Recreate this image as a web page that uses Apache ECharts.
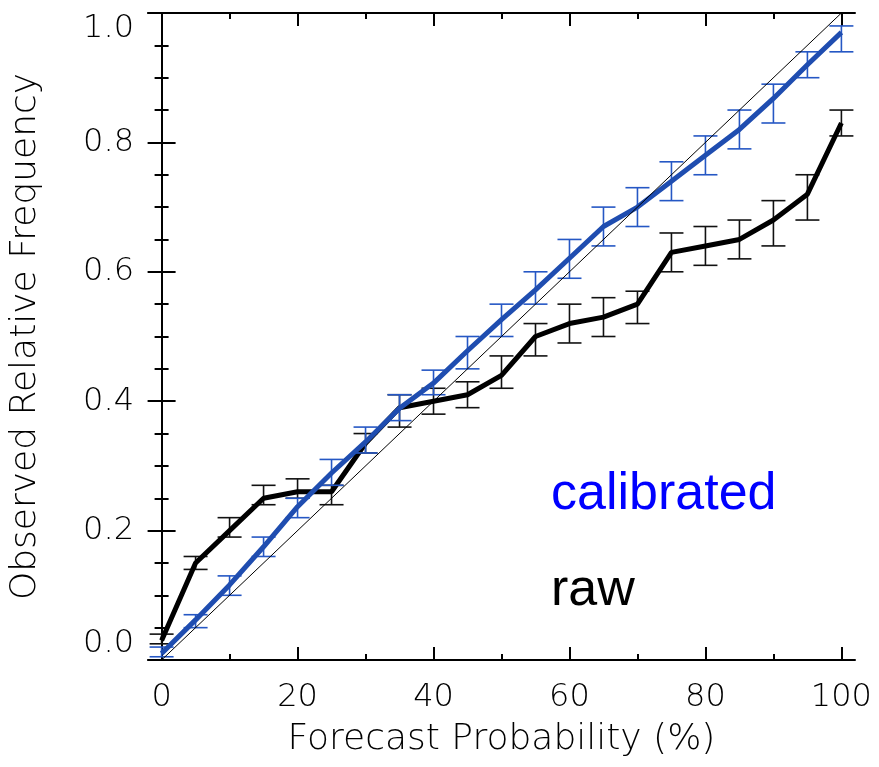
<!DOCTYPE html>
<html>
<head>
<meta charset="utf-8">
<script src="https://cdn.jsdelivr.net/npm/echarts@6.0.0/dist/echarts.min.js"></script>
<style>
html,body{margin:0;padding:0;background:#fff;}
#chart{width:879px;height:767px;}
</style>
</head>
<body>
<div id="chart"></div>
<script>
// Forecast probability bins (%)
const probs = [0,5,10,15,20,25,30,35,40,45,50,55,60,65,70,75,80,85,90,95,100];
// Raw forecast: observed relative frequency and error-bar limits
const rawFreq = [0.03,0.15,0.20,0.25,0.26,0.26,0.335,0.39,0.40,0.41,0.44,0.50,0.52,0.53,0.55,0.63,0.64,0.65,0.68,0.72,0.83];
const rawHigh = [0.04,0.16,0.22,0.27,0.28,0.27,0.35,0.41,0.42,0.43,0.47,0.52,0.55,0.56,0.57,0.66,0.67,0.68,0.71,0.75,0.85];
const rawLow  = [0.025,0.14,0.19,0.24,0.25,0.24,0.32,0.36,0.38,0.39,0.42,0.47,0.49,0.50,0.52,0.60,0.61,0.62,0.64,0.68,0.81];
// Calibrated forecast
const calFreq = [0.01,0.062,0.116,0.175,0.237,0.289,0.337,0.389,0.428,0.478,0.526,0.572,0.621,0.67,0.70,0.74,0.78,0.82,0.868,0.92,0.97];
const calHigh = [0.02,0.07,0.13,0.19,0.25,0.31,0.36,0.41,0.448,0.50,0.55,0.60,0.65,0.70,0.73,0.77,0.81,0.85,0.89,0.94,0.98];
const calLow  = [0.005,0.05,0.10,0.16,0.22,0.27,0.32,0.37,0.41,0.45,0.50,0.55,0.59,0.64,0.67,0.71,0.75,0.79,0.83,0.90,0.94];
// Perfect reliability diagonal
const diagX = [0,100];
const diagY = [0,1];
// Tick values
const xMajorTicks = [0,20,40,60,80,100];
const xMinorTicks = [10,30,50,70,90];
const yAxisMin = 0, yAxisMax = 1, yInterval = 0.2;
const xAxisMin = -2, xAxisMax = 102;
const labelsText = {calibrated:'calibrated', raw:'raw'};
const xTitle = 'Forecast Probability (%)';
const yTitle = 'Observed Relative Frequency';

const FONT = '"DejaVu Sans", sans-serif';
const TXT = '#000';

function zip(xs, ys){ return xs.map((x,i)=>[x, ys[i]]); }
function zip3(xs, a, b){ return xs.map((x,i)=>[x, a[i], b[i]]); }

function errRender(color){
  return function(params, api){
    const x = api.value(0), lo = api.value(1), hi = api.value(2);
    const pLo = api.coord([x, lo]);
    const pHi = api.coord([x, hi]);
    const hw = 12;
    const st = {stroke: color, lineWidth: 1.6};
    return {type:'group', children:[
      {type:'line', shape:{x1:pHi[0], y1:pHi[1], x2:pLo[0], y2:pLo[1]}, style:st},
      {type:'line', shape:{x1:pHi[0]-hw, y1:pHi[1], x2:pHi[0]+hw, y2:pHi[1]}, style:st},
      {type:'line', shape:{x1:pLo[0]-hw, y1:pLo[1], x2:pLo[0]+hw, y2:pLo[1]}, style:st}
    ]};
  };
}

const lineAx = {show:true, lineStyle:{color:'#000', width:2}};
function xAx(pos, ticks, len, withLabels, showLine){
  const o = {
    type:'value', position:pos, min:xAxisMin, max:xAxisMax,
    axisLine: showLine ? lineAx : {show:false},
    axisTick:{show:true, inside:true, length:len, customValues:ticks, lineStyle:{color:'#000', width:2}},
    axisLabel: withLabels ? {show:true, customValues:ticks, fontSize:32, fontFamily:FONT, fontWeight:200, color:TXT, margin:22} : {show:false},
    splitLine:{show:false}
  };
  if (withLabels){
    o.name = xTitle; o.nameLocation='middle'; o.nameGap=62;
    o.nameTextStyle = {fontSize:36, fontFamily:FONT, fontWeight:200, color:TXT};
  }
  return o;
}
function yAx(pos, withLabels){
  const o = {
    type:'value', position:pos, min:yAxisMin, max:yAxisMax, interval:yInterval,
    axisLine: lineAx,
    axisTick:{show:true, inside:true, length:14, lineStyle:{color:'#000', width:2}},
    minorTick:{show:true, splitNumber:4, length:7, lineStyle:{color:'#000', width:2}},
    axisLabel: withLabels ? {show:true, fontSize:32, fontFamily:FONT, fontWeight:200, color:TXT, margin:14,
      formatter:v=>v.toFixed(1), verticalAlignMinLabel:'bottom', verticalAlignMaxLabel:'top'} : {show:false},
    splitLine:{show:false}, minorSplitLine:{show:false}
  };
  if (withLabels){
    o.name = yTitle; o.nameLocation='middle'; o.nameGap=104;
    o.nameTextStyle = {fontSize:36, fontFamily:FONT, fontWeight:200, color:TXT};
  }
  return o;
}

const chart = echarts.init(document.getElementById('chart'), null, {renderer:'canvas'});
chart.setOption({
  backgroundColor:'#fff',
  animation:false,
  grid:{left:148, top:13, right:24, bottom:107, containLabel:false},
  xAxis:[
    xAx('bottom', xMajorTicks, 13, true, true),
    xAx('bottom', xMinorTicks, 6, false, false),
    xAx('top', xMajorTicks, 13, false, true),
    xAx('top', xMinorTicks, 6, false, false)
  ],
  yAxis:[ yAx('left', true), yAx('right', false) ],
  graphic:[
    {type:'text', left:551, top:469, style:{text:labelsText.calibrated, fill:'#0000ff', font:'52px "Liberation Sans", Arial, sans-serif'}},
    {type:'text', left:551, top:565, style:{text:labelsText.raw, fill:'#000', font:'52px "Liberation Sans", Arial, sans-serif'}}
  ],
  series:[
    {type:'custom', xAxisIndex:0, yAxisIndex:0, renderItem:errRender('#111'), data:zip3(probs, rawLow, rawHigh), z:2, encode:{x:0, y:[1,2]}},
    {type:'line', xAxisIndex:0, yAxisIndex:0, data:zip(probs, rawFreq), showSymbol:false, symbol:'none', lineStyle:{color:'#000', width:5}, z:3},
    {type:'custom', xAxisIndex:0, yAxisIndex:0, renderItem:errRender('#2557c4'), data:zip3(probs, calLow, calHigh), z:4, encode:{x:0, y:[1,2]}},
    {type:'line', xAxisIndex:0, yAxisIndex:0, data:zip(probs, calFreq), showSymbol:false, symbol:'none', lineStyle:{color:'#1f4db0', width:5}, z:5},
    {type:'line', xAxisIndex:0, yAxisIndex:0, data:zip(diagX, diagY), showSymbol:false, symbol:'none', lineStyle:{color:'#000', width:1}, z:6}
  ]
});
</script>
</body>
</html>
